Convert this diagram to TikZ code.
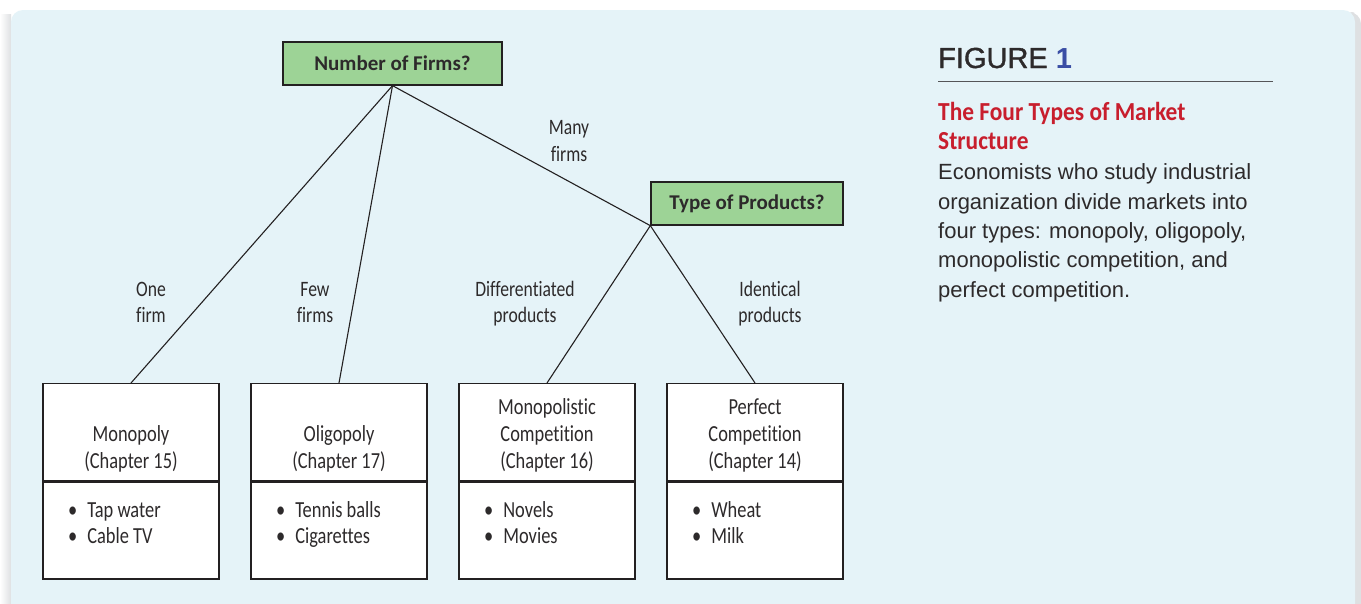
\documentclass[tikz,border=0pt]{standalone}
\usepackage{fontspec}
\setmainfont{Carlito}
\newfontfamily\condfont[FakeStretch=0.8, Ligatures=NoCommon]{Carlito}
\newfontfamily\headfont[Ligatures=NoCommon]{Carlito}
\newfontfamily\titlefont[FakeStretch=0.9, Ligatures=NoCommon]{Carlito}
\newfontfamily\capfont{Liberation Sans}
\newfontfamily\figfont[FakeBold=1.3]{Liberation Sans}
\usetikzlibrary{positioning}
\definecolor{panelcol}{RGB}{229,243,248}
\definecolor{shadecol}{RGB}{222,224,226}
\definecolor{inkcol}{RGB}{45,42,43}
\definecolor{linecol}{RGB}{35,32,33}
\definecolor{askcol}{RGB}{157,211,150}
\definecolor{redcol}{RGB}{200,30,45}
\definecolor{bluecol}{RGB}{58,78,165}
\definecolor{rulecol}{RGB}{85,85,88}

\begin{document}
\begin{tikzpicture}[
    x=1pt, y=-1pt,
    ask/.style={draw=linecol, fill=askcol, line width=1.3pt, minimum height=43pt,
      inner sep=0pt, font=\headfont\bfseries\fontsize{21}{25}\selectfont, text=inkcol},
    kindbox/.style={draw=linecol, fill=white, line width=1.3pt, minimum width=176pt,
      minimum height=97pt, inner sep=0pt, anchor=north},
    kindtext/.style={font=\condfont\fontsize{23}{27}\selectfont, text=inkcol,
      align=center, inner sep=0pt, anchor=base},
    itemtext/.style={font=\condfont\fontsize{23}{26.5}\selectfont, text=inkcol,
      align=left, inner sep=0pt, anchor=base west},
    branch/.style={font=\condfont\fontsize{22}{26.5}\selectfont, text=inkcol,
      align=center, inner sep=0pt, anchor=base},
    link/.style={draw=linecol, line width=1.1pt}
  ]

  % --- page and panel ------------------------------------------------------
  \useasboundingbox (0,0) rectangle (1361,603);
  \fill[white] (0,0) rectangle (1361,603);
  \shade[left color=white, right color=shadecol] (0,14) rectangle (11,603);
  \fill[shadecol, rounded corners=12pt] (1343,12) rectangle (1361,640);
  \fill[panelcol, rounded corners=12pt] (11,10) rectangle (1355,640);

  % --- the two questions --------------------------------------------------
  \node[ask, minimum width=219pt] (NumFirms) at (392.5,63.5) {Number of Firms?};
  \node[ask, minimum width=192pt] (TypeProd) at (747,203.5) {Type of Products?};

  % --- the four market types (heading part and examples part) -------------
  \node[kindbox] (MonoTop) at (131,383) {};
  \node[kindbox] (MonoBot) at (MonoTop.south) {};
  \node[kindbox] (OligTop) at (339,383) {};
  \node[kindbox] (OligBot) at (OligTop.south) {};
  \node[kindbox] (MonCTop) at (547,383) {};
  \node[kindbox] (MonCBot) at (MonCTop.south) {};
  \node[kindbox] (PerfTop) at (755,383) {};
  \node[kindbox] (PerfBot) at (PerfTop.south) {};

  % multi-line nodes sit on their last baseline
  \node[kindtext] (MonoName) at (131,468) {Monopoly\\(Chapter 15)};
  \node[kindtext] (OligName) at (339,468) {Oligopoly\\(Chapter 17)};
  \node[kindtext] (MonCName) at (547,468) {Monopolistic\\Competition\\(Chapter 16)};
  \node[kindtext] (PerfName) at (755,468) {Perfect\\Competition\\(Chapter 14)};

  \node[itemtext] (MonoList) at (68,543.5) {\textbullet\hspace{10pt}Tap water\\\textbullet\hspace{10pt}Cable TV};
  \node[itemtext] (OligList) at (276,543.5) {\textbullet\hspace{10pt}Tennis balls\\\textbullet\hspace{10pt}Cigarettes};
  \node[itemtext] (MonCList) at (484,543.5) {\textbullet\hspace{10pt}Novels\\\textbullet\hspace{10pt}Movies};
  \node[itemtext] (PerfList) at (692,543.5) {\textbullet\hspace{10pt}Wheat\\\textbullet\hspace{10pt}Milk};

  % --- branches -------------------------------------------------------------
  \draw[link] (NumFirms.south) -- (MonoTop.north);
  \draw[link] (NumFirms.south) -- (OligTop.north);
  \draw[link] (NumFirms.south) -- (TypeProd.south west);
  \draw[link] (TypeProd.south west) -- (MonCTop.north);
  \draw[link] (TypeProd.south west) -- (PerfTop.north);

  \node[branch] (OneFirm) at (151,322.5) {One\\firm};
  \node[branch] (FewFirms) at (315,322.5) {Few\\firms};
  \node[branch] (ManyFirms) at (569,161) {Many\\firms};
  \node[branch] (DiffProd) at (525,322.5) {Differentiated\\products};
  \node[branch] (IdentProd) at (770,322.5) {Identical\\products};

  % --- caption ----------------------------------------------------------------
  \node[anchor=base west, inner sep=0pt, text=inkcol, font=\figfont\fontsize{29}{32}\selectfont]
    (FigLabel) at (938,68) {FIGURE \textcolor{bluecol}{\capfont\bfseries 1}};
  \draw[rulecol, line width=1.8pt] (938,81.5) -- (1273,81.5);
  \node[anchor=base west, inner sep=0pt, text=redcol, align=left,
    font=\titlefont\bfseries\fontsize{26}{29.5}\selectfont]
    (FigTitle) at (938,149.5) {The Four Types of Market\\Structure};
  \node[anchor=base west, inner sep=0pt, text=inkcol, align=left,
    font=\capfont\fontsize{22}{29.3}\selectfont]
    (FigText) at (938,297) {Economists who study industrial\\organization divide markets into\\four types: monopoly, oligopoly,\\monopolistic competition, and\\perfect competition.};

\end{tikzpicture}
\end{document}
